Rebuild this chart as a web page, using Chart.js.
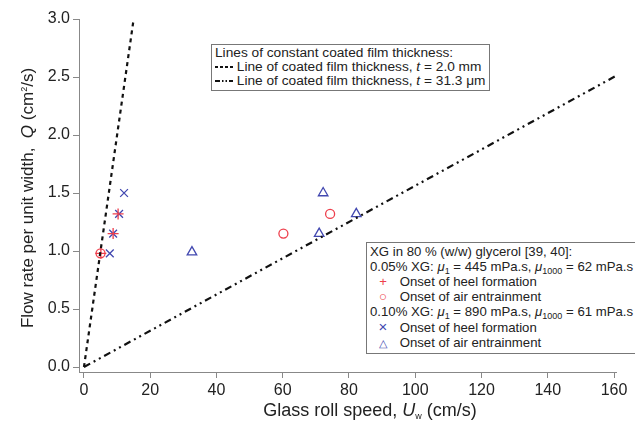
<!DOCTYPE html>
<html lang="en">
<head>
    <meta charset="UTF-8">
    <title>Flow rate vs glass roll speed</title>
    <script src="https://cdn.jsdelivr.net/npm/chart.js"></script>
    <style>
        body {
            margin: 0;
            background: #ffffff;
            font-family: "Liberation Sans", Arial, sans-serif;
            color: #222;
        }
        .wrap {
            position: relative;
            width: 635px;
            height: 432px;
        }
        .ytitle {
            position: absolute;
            left: 28px;
            top: 188px;
            width: 360px;
            margin-left: -180px;
            text-align: center;
            font-size: 17px;
            transform: rotate(-90deg);
            white-space: nowrap;
        }
        .xtitle {
            position: absolute;
            left: 0;
            width: 635px;
            top: 400px;
            padding-left: 105px;
            box-sizing: border-box;
            text-align: center;
            font-size: 18px;
            white-space: nowrap;
        }
        .box {
            position: absolute;
            background: #fff;
            border: 1px solid #777;
            font-size: 13.7px;
            line-height: 14px;
            padding: 1px 3px 2px 3px;
            white-space: nowrap;
        }
        .mk {
            display: inline-block;
            width: 26px;
            text-align: center;
        }
        .tri { font-size: 11px; }
        .xm { font-size: 15px; }
        sub { font-size: 9px; vertical-align: -3px; line-height: 0; }
        sup { font-size: 9px; vertical-align: 6px; line-height: 0; }
    </style>
</head>
<body>
<div class="wrap">
    <canvas id="chart" width="635" height="432"></canvas>
    <div class="ytitle">Flow rate per unit width, &nbsp;<i>Q</i> (cm<sup>2</sup>/s)</div>
    <div class="xtitle">Glass roll speed, <i>U</i><sub>w</sub> (cm/s)</div>

    <div class="box" style="left:211px; top:44px;">
        Lines of constant coated film thickness:<br>
        <svg width="18" height="8"><line x1="0" y1="4" x2="18" y2="4" stroke="#111" stroke-width="2" stroke-dasharray="3,2"/></svg>
        Line of coated film thickness, <i>t</i> = 2.0 mm<br>
        <svg width="18" height="8"><line x1="0" y1="4" x2="18" y2="4" stroke="#111" stroke-width="2" stroke-dasharray="5,2,1.5,2,1.5,2"/></svg>
        Line of coated film thickness, <i>t</i> = 31.3 μm
    </div>

    <div class="box" style="left:366px; top:242px; line-height:15px; font-size:13.2px;">
        XG in 80 % (w/w) glycerol [39, 40]:<br>
        0.05% XG: <i>μ</i><sub>1</sub> = 445 mPa.s, <i>μ</i><sub>1000</sub> = 62 mPa.s<br>
        <span class="mk" style="color:#ee3f4c">+</span> Onset of heel formation<br>
        <span class="mk" style="color:#ee3f4c">○</span> Onset of air entrainment<br>
        0.10% XG: <i>μ</i><sub>1</sub> = 890 mPa.s, <i>μ</i><sub>1000</sub> = 61 mPa.s<br>
        <span class="mk xm" style="color:#4248b0">×</span> Onset of heel formation<br>
        <span class="mk tri" style="color:#4248b0">△</span> Onset of air entrainment
    </div>
</div>

<script>
    // tick labels
    const xTicks = [0, 20, 40, 60, 80, 100, 120, 140, 160];
    const yTicks = [0, 0.5, 1.0, 1.5, 2.0, 2.5, 3.0];

    // constant film thickness lines (end points)
    const thickLineU = [0, 15];
    const thickLineQ = [0, 3.0];
    const thinLineU = [0, 160.6];
    const thinLineQ = [0, 2.51];

    // 0.05% XG
    const heel005U = [5.1, 8.8, 10.3];
    const heel005Q = [0.98, 1.15, 1.32];
    const air005U = [5.0, 60.2, 74.3];
    const air005Q = [0.98, 1.15, 1.32];

    // 0.10% XG
    const heel010U = [7.8, 8.8, 10.6, 12.1];
    const heel010Q = [0.98, 1.15, 1.32, 1.50];
    const air010U = [32.6, 71.0, 82.2, 72.2];
    const air010Q = [0.99, 1.15, 1.32, 1.50];

    const red = '#ee3f4c';
    const blue = '#4248b0';

    function pts(xs, ys) {
        return xs.map((x, i) => ({ x: x, y: ys[i] }));
    }

    const tickFont = { family: '"Liberation Sans", Arial, sans-serif', size: 16 };

    new Chart(document.getElementById('chart'), {
        type: 'scatter',
        data: {
            datasets: [
                {
                    data: pts(thickLineU, thickLineQ),
                    showLine: true,
                    borderColor: '#111',
                    borderWidth: 2.2,
                    borderDash: [4, 4],
                    pointRadius: 0
                },
                {
                    data: pts(thinLineU, thinLineQ),
                    showLine: true,
                    borderColor: '#111',
                    borderWidth: 2.2,
                    borderDash: [7, 4, 2, 4, 2, 4],
                    pointRadius: 0
                },
                {
                    data: pts(air005U, air005Q),
                    pointStyle: 'circle',
                    pointRadius: 4.5,
                    borderColor: red,
                    backgroundColor: 'rgba(0,0,0,0)',
                    borderWidth: 1.3
                },
                {
                    data: pts(heel005U, heel005Q),
                    pointStyle: 'cross',
                    pointRadius: 5.5,
                    borderColor: red,
                    borderWidth: 1.3
                },
                {
                    data: pts(heel010U, heel010Q),
                    pointStyle: 'crossRot',
                    pointRadius: 5.5,
                    borderColor: blue,
                    borderWidth: 1.3
                },
                {
                    data: pts(air010U, air010Q),
                    pointStyle: 'triangle',
                    pointRadius: 5.5,
                    borderColor: blue,
                    backgroundColor: 'rgba(0,0,0,0)',
                    borderWidth: 1.3
                }
            ]
        },
        options: {
            responsive: false,
            animation: false,
            layout: { padding: { top: 19, right: 19, left: 0, bottom: 0 } },
            plugins: {
                legend: { display: false },
                tooltip: { enabled: false }
            },
            scales: {
                x: {
                    type: 'linear',
                    min: -1.5,
                    max: 160.6,
                    afterBuildTicks: s => { s.ticks = xTicks.map(v => ({ value: v })); },
                    afterFit: s => { s.height = 60; },
                    border: { color: '#888', width: 1 },
                    grid: { drawOnChartArea: false, drawTicks: true, tickLength: 6, color: '#888' },
                    ticks: { color: '#222', font: tickFont, padding: 3, maxRotation: 0 }
                },
                y: {
                    type: 'linear',
                    min: -0.043,
                    max: 3.0,
                    afterBuildTicks: s => { s.ticks = yTicks.map(v => ({ value: v })); },
                    afterFit: s => { s.width = 79; },
                    border: { color: '#888', width: 1 },
                    grid: { drawOnChartArea: false, drawTicks: true, tickLength: 6, color: '#888' },
                    ticks: { color: '#222', font: tickFont, padding: 3, callback: v => v.toFixed(1) }
                }
            }
        }
    });
</script>
</body>
</html>
